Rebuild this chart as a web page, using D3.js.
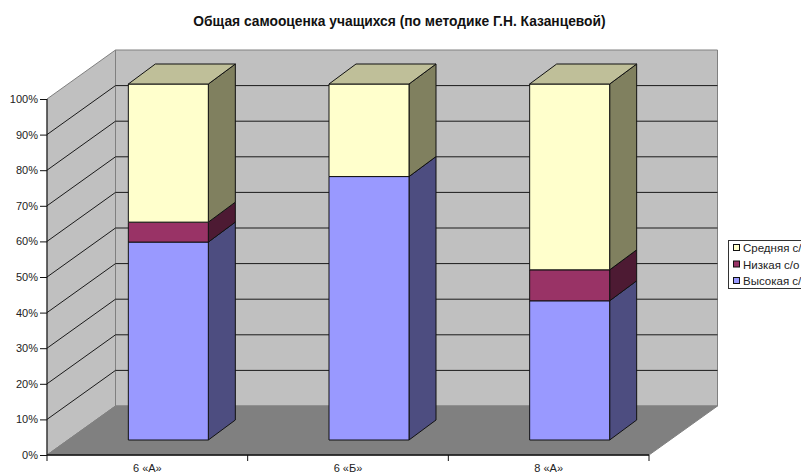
<!DOCTYPE html>
<html lang="ru">
<head>
    <meta charset="UTF-8">
    <title>Общая самооценка учащихся</title>
    <style>
        body { margin: 0; background: #fff; overflow: hidden; }
        svg { display: block; font-family: "Liberation Sans", Arial, sans-serif; }
        .tick text { fill: #222; font-size: 11px; font-family: "Liberation Sans", Arial, sans-serif; }
        .face { stroke: #111; stroke-width: 1; stroke-linejoin: round; }
    </style>
</head>
<body>
    <svg width="801" height="473"></svg>
    <script src="https://d3js.org/d3.v7.min.js"></script>
    <script>
const categories = ['6 «А»', '6 «Б»', '8 «А»'];
const seriesNames = ['Высокая с/о', 'Низкая с/о', 'Средняя с/о'];
const high = [55.6, 74, 39.1];
const low = [5.6, 0, 8.7];
const mid = [38.8, 26, 52.2];
const yTicks = [0, 10, 20, 30, 40, 50, 60, 70, 80, 90, 100];

const frontColors = ['#9999ff', '#993366', '#ffffcc'];
const sideColors = ['#4d4d80', '#4d1a33', '#80805f'];
const topColor = '#bfbf99';

const svg = d3.select('svg');

// front plane of the 3d box
const x = d3.scaleBand().domain(categories).range([47, 649]);
const y = d3.scaleLinear().domain([0, 100]).range([455, 99]);
// bars sit inside the box, so they have their own baseline
const yBar = d3.scaleLinear().domain([0, 100]).range([440, 84]);

// depth offset of the box
const dx = 68.5, dy = -49;
const barWidth = 80, barShift = 21, barDx = 27, barDy = -20;

const pts = a => a.map(p => p.join(',')).join(' ');

// walls and floor
svg.append('polygon').attr('points', pts([[47 + dx, 455 + dy], [649 + dx, 455 + dy], [649 + dx, 99 + dy], [47 + dx, 99 + dy]]))
    .attr('fill', '#c0c0c0').attr('stroke', '#808080').attr('stroke-width', 1);
svg.append('polygon').attr('points', pts([[47, 455], [47 + dx, 455 + dy], [47 + dx, 99 + dy], [47, 99]]))
    .attr('fill', '#c0c0c0').attr('stroke', '#808080').attr('stroke-width', 1);
svg.append('polygon').attr('points', pts([[47, 455], [649, 455], [649 + dx, 455 + dy], [47 + dx, 455 + dy]]))
    .attr('fill', '#808080').attr('stroke', '#808080').attr('stroke-width', 1);

// gridlines
const grid = svg.append('g').attr('fill', 'none').attr('stroke', '#1a1a1a').attr('stroke-width', 1);
yTicks.filter(t => t > 0 && t < 100).forEach(t => {
    grid.append('polyline').attr('points', pts([[47, y(t)], [47 + dx, y(t) + dy], [649 + dx, y(t) + dy]]));
});

// stacked bars
const rows = categories.map((c, i) => ({ cat: c, 0: high[i], 1: low[i], 2: mid[i] }));
const stacked = d3.stack().keys([0, 1, 2])(rows);

const bars = svg.append('g');
stacked.forEach((layer, s) => {
    layer.forEach(d => {
        if (d[1] - d[0] <= 0) return;
        const x0 = x(d.data.cat) + (x.bandwidth() - barWidth) / 2 + barShift;
        const x1 = x0 + barWidth;
        const y0 = yBar(d[0]), y1 = yBar(d[1]);
        bars.append('polygon').attr('class', 'face')
            .attr('points', pts([[x1, y0], [x1 + barDx, y0 + barDy], [x1 + barDx, y1 + barDy], [x1, y1]]))
            .attr('fill', sideColors[s]);
        bars.append('polygon').attr('class', 'face')
            .attr('points', pts([[x0, y0], [x1, y0], [x1, y1], [x0, y1]]))
            .attr('fill', frontColors[s]);
        if (d[1] >= 99.9) {
            bars.append('polygon').attr('class', 'face')
                .attr('points', pts([[x0, y1], [x1, y1], [x1 + barDx, y1 + barDy], [x0 + barDx, y1 + barDy]]))
                .attr('fill', topColor);
        }
    });
});

// axes
const yAxis = d3.axisLeft(y).tickValues(yTicks).tickFormat(d => d + '%').tickSize(7).tickPadding(2);
const gy = svg.append('g').attr('transform', 'translate(47,0)').call(yAxis);
gy.selectAll('line').attr('stroke', '#111');
gy.select('.domain').attr('stroke', '#111').attr('d', `M0,${y(100)}V${y(0)}`);

const xAxis = d3.axisBottom(x).tickSize(0).tickPadding(9);
const gx = svg.append('g').attr('transform', 'translate(0,455)').call(xAxis);
gx.select('.domain').attr('stroke', '#111').attr('stroke-width', 1.5).attr('d', 'M47,0H649');
gx.selectAll('.boundary').data(d3.range(categories.length + 1)).enter().append('line')
    .attr('class', 'boundary').attr('stroke', '#111')
    .attr('x1', i => 47 + i * x.step()).attr('x2', i => 47 + i * x.step())
    .attr('y1', 0).attr('y2', 6);

// title
svg.append('text').attr('x', 399.5).attr('y', 26).attr('text-anchor', 'middle')
    .attr('font-size', 13.8).attr('font-weight', 'bold').attr('fill', '#111')
    .text('Общая самооценка учащихся (по методике Г.Н. Казанцевой)');

// legend, runs off the right edge like the original
const legend = svg.append('g');
legend.append('rect').attr('x', 728.5).attr('y', 240.5).attr('width', 90).attr('height', 48)
    .attr('fill', '#fff').attr('stroke', '#333');
const legendRows = [2, 1, 0];
const legendY = d3.scalePoint().domain(legendRows).range([248, 281]);
legendRows.forEach(s => {
    legend.append('rect').attr('x', 733.5).attr('y', legendY(s) - 3.5).attr('width', 6).attr('height', 6)
        .attr('fill', frontColors[s]).attr('stroke', '#111');
    legend.append('text').attr('x', 743).attr('y', legendY(s) + 4)
        .attr('font-size', 11.5).attr('fill', '#222').text(seriesNames[s]);
});
    </script>
</body>
</html>
